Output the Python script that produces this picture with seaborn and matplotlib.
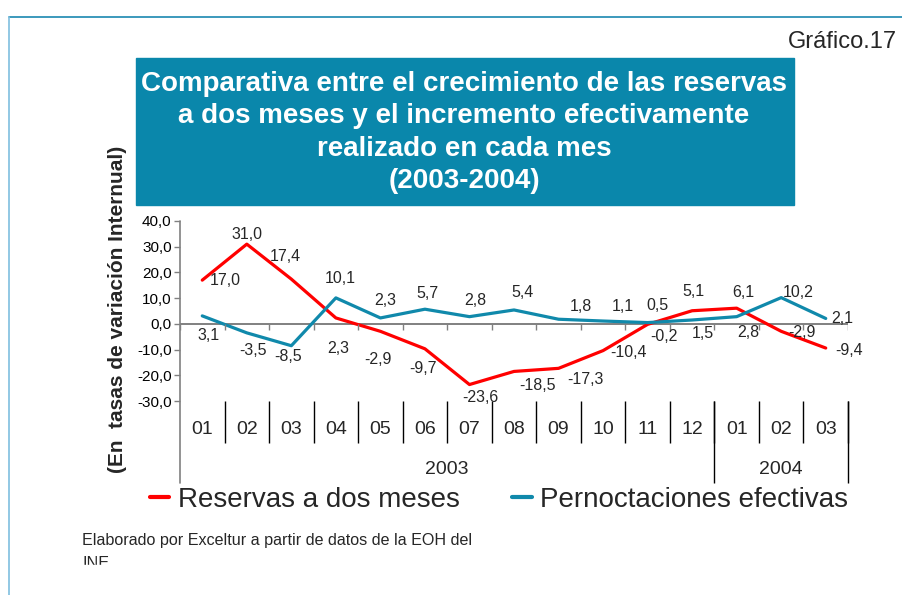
import numpy as np
import pandas as pd
import seaborn as sns
import matplotlib.pyplot as plt
from matplotlib.patches import Rectangle
from matplotlib.lines import Line2D
from matplotlib.transforms import blended_transform_factory


# Chart data
months = ['01', '02', '03', '04', '05', '06', '07', '08', '09', '10', '11', '12', '01', '02', '03']
years = ['2003', '2004']
months_per_year = [12, 3]
reservas = [17.0, 31.0, 17.4, 2.3, -2.9, -9.7, -23.6, -18.5, -17.3, -10.4, -0.2, 5.1, 6.1, -2.9, -9.4]
pernoctaciones = [3.1, -3.5, -8.5, 10.1, 2.3, 5.7, 2.8, 5.4, 1.8, 1.1, 0.5, 1.5, 2.8, 10.2, 2.1]
series_names = ['Reservas a dos meses', 'Pernoctaciones efectivas']
colors = ['#FF0000', '#1089AB']

# label offsets in pixels (dx right, dy down) so labels sit like in the original
red_off = [(23, 0), (0, -10), (-6, -23), (2, 31), (-2, 28), (-2, 20), (11, 13), (24, 14),
           (27, 11), (25, 2), (16, 12), (1, -19), (7, -16), (21, 1), (23, 2)]
blue_off = [(6, 20), (6, 18), (-3, 11), (4, -19), (5, -17), (3, -16), (6, -16), (8, -17),
            (22, -13), (20, -15), (10, -17), (11, 13), (12, 16), (17, -5), (17, 0)]

df = pd.DataFrame({
    'idx': list(range(len(months))) * 2,
    'valor': reservas + pernoctaciones,
    'serie': [series_names[0]] * len(months) + [series_names[1]] * len(months),
})

sns.set_style('white')
plt.rcParams['font.family'] = ['Liberation Sans', 'DejaVu Sans']

fig = plt.figure(figsize=(9.02, 5.95), dpi=100)
W, H = 902, 595
ax_left, ax_right, ax_top, ax_bot = 180, 848, 221, 401
ax = fig.add_axes([ax_left / W, 1 - ax_bot / H, (ax_right - ax_left) / W, (ax_bot - ax_top) / H])

sns.lineplot(data=df, x='idx', y='valor', hue='serie', palette=colors, linewidth=2.3,
             ax=ax, legend=False)

ax.set_xlim(-0.5, len(months) - 0.5)
ax.set_ylim(-30, 40)
ax.set_yticks(np.arange(-30, 41, 10))
ax.set_yticklabels([f'{v:.1f}'.replace('.', ',') for v in np.arange(-30, 41, 10)], fontsize=11)
ax.set_xticks([])
ax.set_xlabel('')
ax.set_ylabel('')
for s in ax.spines.values():
    s.set_visible(False)
ax.tick_params(axis='y', left=True, length=4, width=1, color='#808080', pad=2, labelcolor='black')

# zero line with category ticks
ax.axhline(0, color='#808080', lw=1.4, zorder=1)
bounds = np.arange(-0.5, len(months), 1)
ax.vlines(bounds, -2.3, 0, color='#808080', lw=1)

# left axis line running down through the category table
tr = blended_transform_factory(ax.transData, ax.transAxes)
ax.plot([-0.5, -0.5], [-0.456, 1], color='#808080', lw=1.2, transform=tr, clip_on=False)

# category table: month separators, year separators, labels
ax.vlines(bounds[1:], -0.233, 0, color='black', lw=1, transform=tr, clip_on=False)
ends = np.cumsum(months_per_year) - 0.5
ax.vlines(ends, -0.456, 0, color='black', lw=1, transform=tr, clip_on=False)
for i, m in enumerate(months):
    ax.text(i, -0.161, m, ha='center', va='center', fontsize=14, transform=tr)
start = -0.5
for y, e in zip(years, ends):
    ax.text((start + e) / 2, -0.383, y, ha='center', va='center', fontsize=14, transform=tr)
    start = e

# data labels
for vals, offs in [(reservas, red_off), (pernoctaciones, blue_off)]:
    for i, (v, (dx, dy)) in enumerate(zip(vals, offs)):
        ax.annotate(f'{v:.1f}'.replace('.', ','), (i, v), xytext=(dx * 0.72, -dy * 0.72),
                    textcoords='offset points', ha='center', va='center', fontsize=11.5)

# legend
handles = [Line2D([], [], color=c, lw=3) for c in colors]
fig.legend(handles, series_names, loc='center', bbox_to_anchor=(499 / W, 1 - 500 / H),
           ncol=2, frameon=False, fontsize=20, handlelength=0.7, handletextpad=0.3,
           columnspacing=1.9, borderaxespad=0)

# title box
fig.patches.append(Rectangle((136 / W, 1 - 205 / H), (794 - 136) / W, 147 / H,
                             transform=fig.transFigure, color='#0A87AB', zorder=0))
fig.text(464 / W, 1 - 132.5 / H,
         'Comparativa entre el crecimiento de las reservas\n'
         'a dos meses y el incremento efectivamente\n'
         'realizado en cada mes\n(2003-2004)',
         ha='center', va='center', color='white', fontsize=20, fontweight='bold',
         linespacing=1.31)

fig.text(842 / W, 1 - 42 / H, 'Gráfico.17', ha='center', va='center', fontsize=17)

fig.text(118 / W, 1 - 309 / H, '(En  tasas de variación Internual)', rotation=90,
         ha='center', va='center', fontsize=15, fontweight='bold')

# source note, second line cut off at the bottom like the original
fig.text(82 / W, 1 - 541 / H, 'Elaborado por Exceltur a partir de datos de la EOH del',
         ha='left', va='center', fontsize=11.6)
fig.text(82 / W, 1 - 564 / H, 'INE', ha='left', va='center', fontsize=11.6)
fig.patches.append(Rectangle((20 / W, 0), 600 / W, 1 - 565 / H, transform=fig.transFigure,
                             color='white', zorder=5))

# frame lines
fig.add_artist(Line2D([9 / W, 1], [1 - 17 / H, 1 - 17 / H], color='#1A88B0', lw=1.2))
fig.add_artist(Line2D([9 / W, 9 / W], [0, 1 - 17 / H], color='#7FBFDF', lw=1.2))

fig.savefig('out.png', dpi=100)
